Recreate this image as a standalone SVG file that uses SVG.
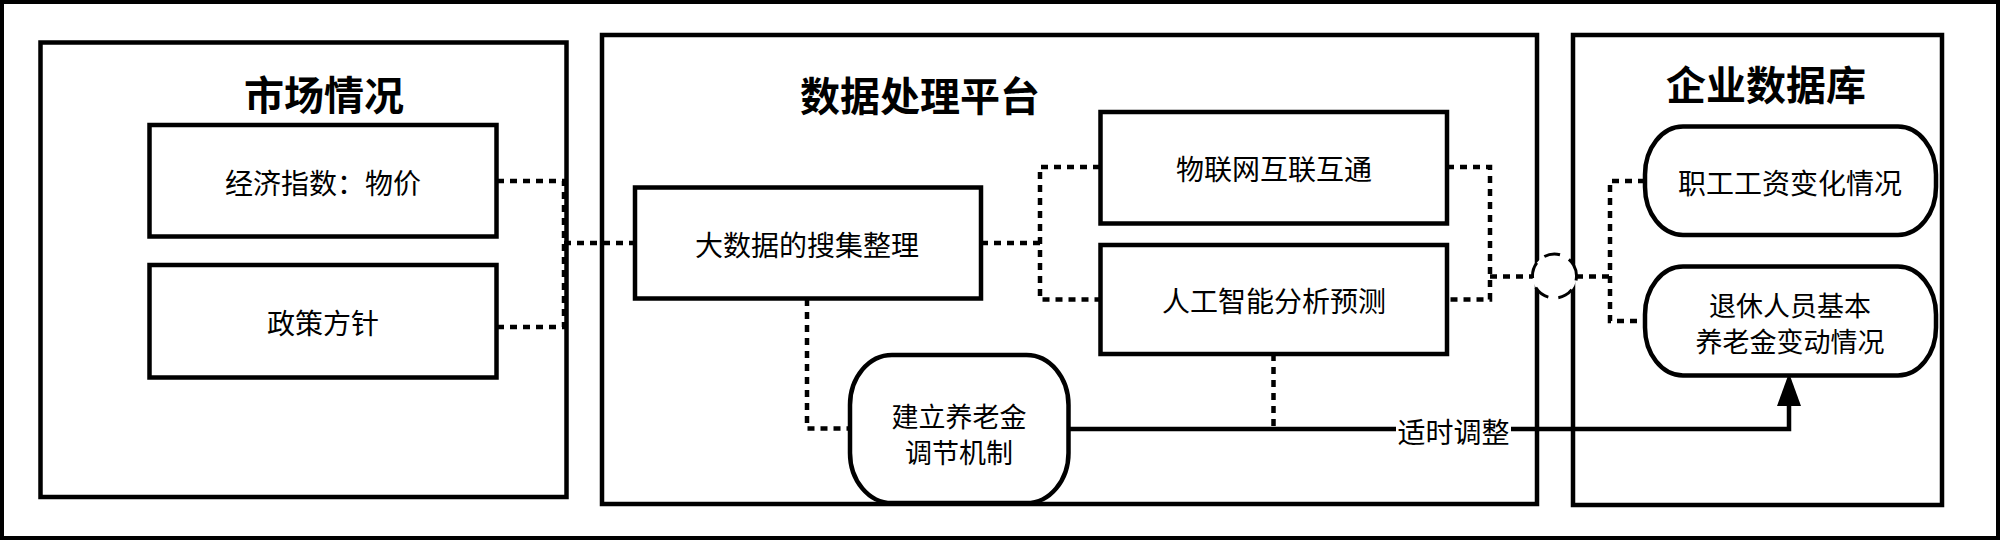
<svg xmlns="http://www.w3.org/2000/svg" width="2000" height="540" viewBox="0 0 2000 540">
  <style>
    .frame { fill: #ffffff; stroke: #000000; stroke-width: 4.5; }
    .box { fill: #ffffff; stroke: #000000; stroke-width: 4.5; }
    .title { font-family: "Noto Sans CJK SC", "Noto Sans", sans-serif; font-size: 40px; font-weight: bold; fill: #000000; text-anchor: middle; dominant-baseline: central; }
    .label { font-family: "Noto Sans CJK SC", "Noto Sans", sans-serif; font-size: 28px; fill: #000000; text-anchor: middle; dominant-baseline: central; }
    .label2 { font-family: "Noto Sans CJK SC", "Noto Sans", sans-serif; font-size: 27px; fill: #000000; text-anchor: middle; dominant-baseline: central; }
    .dot { fill: none; stroke: #000000; stroke-width: 4.5; stroke-dasharray: 7 6; }
    .solid { fill: none; stroke: #000000; stroke-width: 4.5; }
  </style>
  <defs>
    <marker id="arrow" viewBox="0 0 33 24" refX="11" refY="12" markerWidth="33" markerHeight="24" markerUnits="userSpaceOnUse" orient="auto">
      <path d="M0,0 L33,12 L0,24 z" fill="#000000"/>
    </marker>
  </defs>

  <rect x="0" y="0" width="2000" height="540" fill="#ffffff"/>
  <rect x="2" y="2" width="1996" height="536" fill="none" stroke="#000000" stroke-width="4"/>

  <g id="market">
    <rect class="frame" x="40.5" y="42.5" width="526" height="454.5"/>
    <text class="title" x="324" y="93">市场情况</text>
  </g>
  <g id="platform">
    <rect class="frame" x="602" y="35" width="935" height="469"/>
    <text class="title" x="920" y="94">数据处理平台</text>
  </g>
  <g id="database">
    <rect class="frame" x="1573" y="35" width="369" height="470"/>
    <text class="title" x="1766" y="83">企业数据库</text>
  </g>

  <g id="connectors">
    <polyline class="dot" points="497,181 564,181 564,327 497,327"/>
    <polyline class="dot" points="564,243 635,243"/>
    <polyline class="dot" points="981,243 1040,243"/>
    <polyline class="dot" points="1100,167 1040,167 1040,299.5 1100,299.5"/>
    <polyline class="dot" points="807,299 807,428.5 850,428.5"/>
    <polyline class="dot" points="1447,167 1490,167 1490,299.5 1447,299.5"/>
    <polyline class="dot" points="1490,276.5 1533,276.5"/>
    <polyline class="dot" points="1576,276.5 1610,276.5"/>
    <polyline class="dot" points="1645,181 1610,181 1610,321 1645,321"/>
    <circle cx="1554.5" cy="276" r="22" fill="#ffffff" stroke="#000000" stroke-width="3" stroke-dasharray="16 10" transform="rotate(-30 1554.5 276)"/>
    <polyline class="dot" points="1273.5,354 1273.5,429"/>
    <polyline class="solid" points="1068.5,429 1789,429 1789,395" marker-end="url(#arrow)"/>
    <rect x="1396" y="414" width="115" height="34" fill="#ffffff"/>
    <text class="label" x="1453.5" y="431">适时调整</text>
  </g>

  <g id="n-economy">
    <rect class="box" x="149.5" y="125" width="347" height="111.5"/>
    <text class="label" x="323" y="182">经济指数：物价</text>
  </g>
  <g id="n-policy">
    <rect class="box" x="149.5" y="265" width="347" height="112.5"/>
    <text class="label" x="323" y="322">政策方针</text>
  </g>
  <g id="n-bigdata">
    <rect class="box" x="635" y="187.5" width="346" height="111"/>
    <text class="label" x="807" y="244">大数据的搜集整理</text>
  </g>
  <g id="n-iot">
    <rect class="box" x="1100.5" y="112" width="346.5" height="111.5"/>
    <text class="label" x="1274" y="168">物联网互联互通</text>
  </g>
  <g id="n-ai">
    <rect class="box" x="1100.5" y="245" width="346.5" height="109"/>
    <text class="label" x="1274" y="300">人工智能分析预测</text>
  </g>
  <g id="n-mechanism">
    <rect class="box" x="850" y="355" width="218.5" height="148" rx="42" ry="50"/>
    <text class="label2" x="959" y="415">建立养老金</text>
    <text class="label2" x="959" y="451">调节机制</text>
  </g>
  <g id="n-wage">
    <rect class="box" x="1645" y="126.5" width="291" height="108.5" rx="38" ry="48"/>
    <text class="label" x="1790" y="182">职工工资变化情况</text>
  </g>
  <g id="n-pension">
    <rect class="box" x="1645" y="266.5" width="291" height="109" rx="38" ry="48"/>
    <text class="label2" x="1790" y="304">退休人员基本</text>
    <text class="label2" x="1790" y="340">养老金变动情况</text>
  </g>
</svg>
